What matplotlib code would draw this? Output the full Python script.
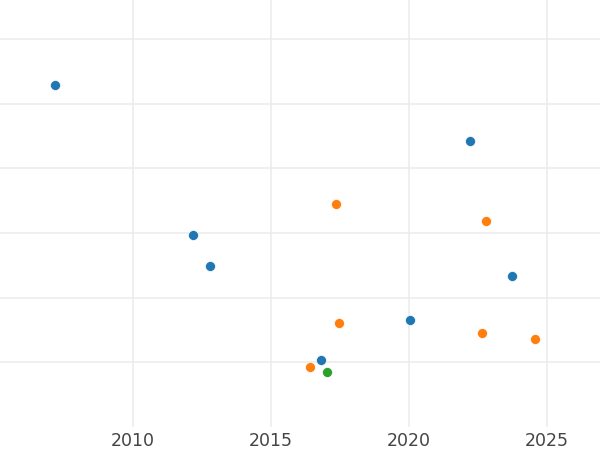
import matplotlib
matplotlib.use('Agg')
import matplotlib.pyplot as plt

# ---------------------------- data ----------------------------
blue_x = [2007.18, 2022.21, 2012.16, 2012.78, 2023.71, 2020.03, 2016.80]
blue_y = [5.28, 4.42, 2.96, 2.49, 2.34, 1.66, 1.04]

orange_x = [2017.35, 2022.79, 2017.47, 2022.64, 2024.57, 2016.42]
orange_y = [3.45, 3.18, 1.61, 1.46, 1.36, 0.92]

green_x = [2017.03]
green_y = [0.85]

x_ticks = [2010, 2015, 2020, 2025]
y_grid = [1, 2, 3, 4, 5, 6]

# ---------------------------- plot ----------------------------
fig = plt.figure(figsize=(6, 4.5), dpi=100)
ax = fig.add_axes([0, 1 - 427 / 450, 1, 427 / 450])

kw = dict(s=52, edgecolor='white', linewidths=0.5, zorder=3)
ax.scatter(blue_x, blue_y, color='#1f77b4', **kw)
ax.scatter(orange_x, orange_y, color='#ff7f0e', **kw)
ax.scatter(green_x, green_y, color='#2ca02c', **kw)

ax.set_xlim(2005.185, 2026.91)
ax.set_ylim(0, 6.60)
ax.set_xticks(x_ticks)
ax.set_yticks(y_grid)
ax.set_yticklabels([])
ax.grid(True, color='#ebebeb', linewidth=1.1)
ax.set_axisbelow(True)
ax.tick_params(length=0, labelsize=12.5, labelcolor='#444444', pad=3.5)
for s in ax.spines.values():
    s.set_visible(False)

fig.savefig('out.png', dpi=100)
